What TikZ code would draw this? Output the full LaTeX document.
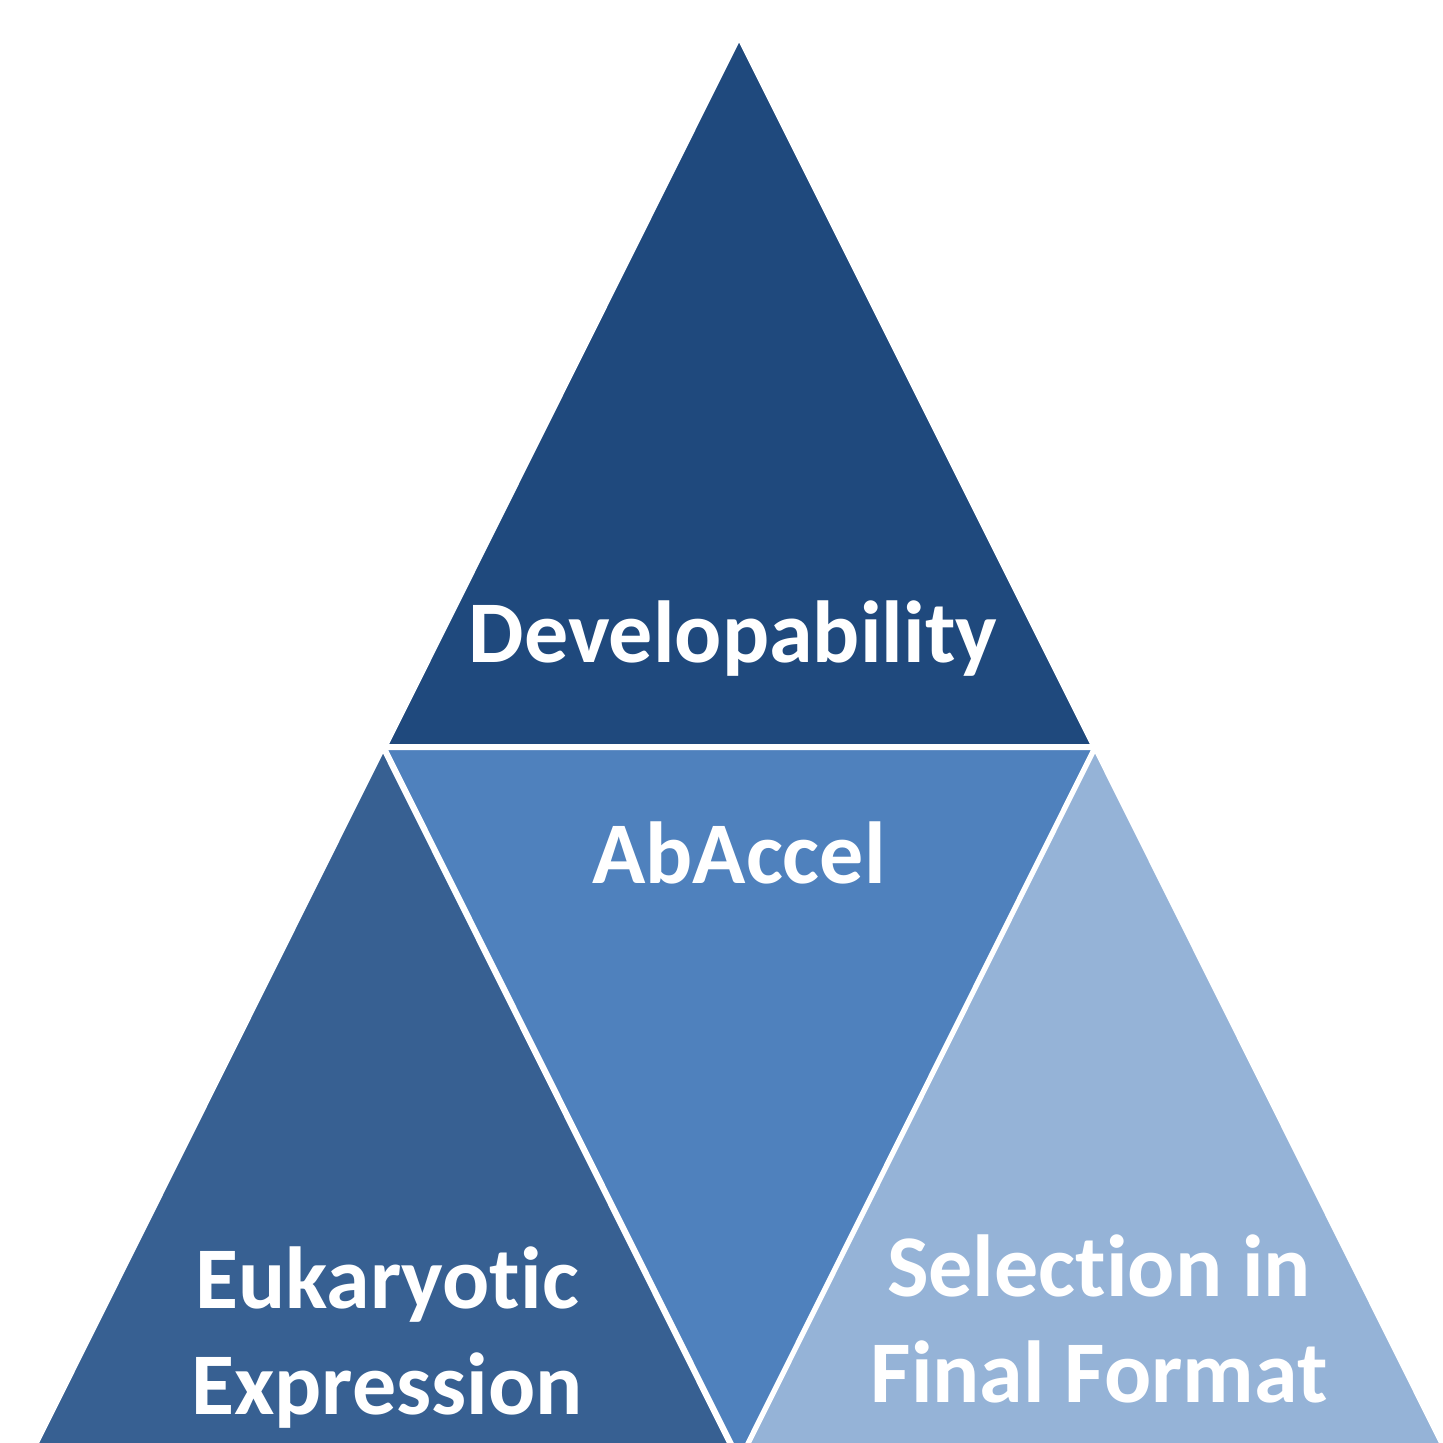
\documentclass[tikz,border=0pt]{standalone}
\usepackage{fontspec}
\setmainfont{Carlito}[Ligatures={NoCommon}]
\definecolor{cTop}{HTML}{1F497D}
\definecolor{cLeft}{HTML}{376092}
\definecolor{cMid}{HTML}{4F81BD}
\definecolor{cRight}{HTML}{95B3D7}
\begin{document}
\begin{tikzpicture}[x=0.5pt,y=-0.5pt,
  tri/.style={draw=white,line width=2pt,line join=miter},
  lbl/.style={text=white,font=\fontsize{44}{53}\selectfont\bfseries,align=center,inner sep=0pt}]
\useasboundingbox (0,0) rectangle (1442,1443);
\clip (0,0) rectangle (1442,1443);
\fill[white] (0,0) rectangle (1442,1443);
\draw[tri,fill=cTop] (739,38) -- (386,746) -- (1093,746) -- cycle;
\draw[tri,fill=cLeft] (383,749) -- (30,1457) -- (736,1457) -- cycle;
\draw[tri,fill=cRight] (1095,749) -- (742,1457) -- (1448,1457) -- cycle;
\draw[tri,fill=cMid] (385,748) -- (1094,748) -- (739.5,1459) -- cycle;
\node[lbl,anchor=base] (dev) at (733,662) {Developability};
\node[lbl,anchor=base] (ab) at (739,883) {AbAccel};
\node[lbl,anchor=base] (euk) at (387,1414) {Eukaryotic\\Expression};
\node[lbl,anchor=base] (sel) at (1099,1402) {Selection in\\Final Format};
\end{tikzpicture}
\end{document}
